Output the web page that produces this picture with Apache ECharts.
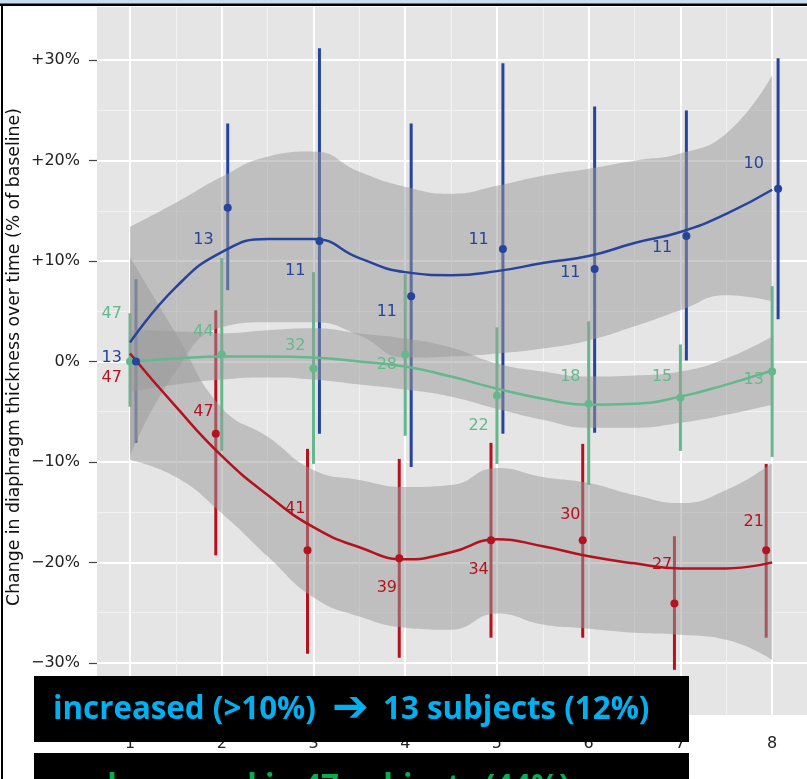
<!DOCTYPE html>
<html>
<head>
<meta charset="utf-8">
<script src="https://cdn.jsdelivr.net/npm/echarts@6.0.0/dist/echarts.min.js"></script>
<style>
html, body { margin: 0; padding: 0; background: #fff; }
#chart { width: 807px; height: 779px; }
</style>
</head>
<body>
<div id="chart"></div>
<script>
// 时间点 / 刻度
var times = [1, 2, 3, 4, 5, 6, 7, 8];
var xTicks = [1, 2, 3, 4, 5, 6, 7, 8];
var xMinor = [1.5, 2.5, 3.5, 4.5, 5.5, 6.5, 7.5];
var yTicks = [-30, -20, -10, 0, 10, 20, 30];
var yMinor = [-25, -15, -5, 5, 15, 25];

// increased (blue)
var blueMean = [0, 15.3, 12.0, 6.5, 11.2, 9.2, 12.5, 17.2];
var blueLow = [-8.1, 7.1, -7.2, -10.5, -7.2, -7.1, 0.1, 4.2];
var blueHigh = [8.2, 23.7, 31.2, 23.7, 29.7, 25.4, 25.0, 30.2];
var blueN = ['13', '13', '11', '11', '11', '11', '11', '10'];
var blueNy = [0.35, 12.1, 9.0, 4.9, 12.1, 8.8, 11.3, 19.7];

// unchanged (green)
var greenMean = [0, 0.7, -0.7, 0.7, -3.4, -4.2, -3.6, -1.0];
var greenLow = [-4.5, -8.9, -10.2, -7.4, -10.2, -12.3, -8.9, -9.5];
var greenHigh = [4.8, 10.3, 8.9, 8.7, 3.4, 4.0, 1.7, 7.5];
var greenN = ['47', '44', '32', '28', '22', '18', '15', '13'];
var greenNy = [4.7, 3.0, 1.6, -0.35, -6.4, -1.5, -1.5, -1.8];

// decreased (red)
var redMean = [null, -7.2, -18.8, -19.6, -17.8, -17.8, -24.1, -18.8];
var redLow = [null, -19.3, -29.1, -29.5, -27.5, -27.5, -30.7, -27.5];
var redHigh = [null, 5.1, -8.7, -9.7, -8.1, -8.2, -17.4, -10.2];
var redN = ['47', '47', '41', '39', '34', '30', '27', '21'];
var redNy = [-1.6, -5.0, -14.7, -22.5, -20.7, -15.3, -20.2, -16.0];

// 平滑曲线 + 置信带
var fitX = [1, 1.5, 2, 2.5, 3, 3.5, 4, 4.5, 5, 5.5, 6, 6.5, 7, 7.5, 8];
var blueFit = [1.9, 7.4, 10.9, 12.2, 12.2, 10.3, 8.9, 8.6, 9.0, 9.8, 10.5, 11.8, 12.9, 14.7, 17.1];
var blueFitHi = [13.4, 15.8, 18.4, 20.4, 20.9, 18.9, 17.4, 16.7, 17.5, 18.5, 19.2, 20.0, 20.7, 22.7, 28.5];
var blueFitLo = [-9.4, -1.0, 3.4, 3.9, 3.9, 2.6, 0.4, 0.5, 0.8, 1.3, 2.1, 3.5, 5.1, 6.6, 6.0];
var greenFit = [0, 0.3, 0.5, 0.5, 0.4, 0.0, -0.5, -1.5, -2.7, -3.7, -4.3, -4.2, -3.5, -2.3, -0.9];
var greenFitHi = [3.1, 3.0, 2.8, 3.1, 3.3, 2.8, 2.3, 1.4, -0.2, -1.0, -1.5, -1.4, -1.0, 0.3, 2.5];
var greenFitLo = [-3.0, -2.3, -1.8, -1.6, -1.8, -2.3, -2.8, -3.5, -4.7, -5.8, -6.6, -6.6, -6.1, -5.3, -4.3];
var redFit = [0.8, -4.5, -9.4, -13.3, -16.5, -18.5, -19.7, -19.0, -17.7, -18.4, -19.4, -20.1, -20.6, -20.6, -20.0];
var redFitHi = [10.4, 2.8, -4.6, -7.5, -10.8, -11.8, -12.5, -12.3, -10.6, -11.5, -12.1, -13.3, -14.1, -12.8, -10.1];
var redFitLo = [-9.8, -11.5, -15.1, -19.4, -23.5, -25.4, -26.5, -26.7, -25.1, -26.2, -26.6, -27.0, -27.2, -27.7, -29.7];

var BLUE = '#26449C', GREEN = '#64B98C', RED = '#B5121F';
var FONT = '"DejaVu Sans", sans-serif';
var BOX_FONT = 'bold 31.3px "Open Sans", sans-serif';

function errBar(params, api) {
    var x = api.value(0);
    var p1 = api.coord([x, api.value(2)]);
    var p2 = api.coord([x, api.value(1)]);
    return {
        type: 'line',
        shape: { x1: p1[0], y1: p1[1], x2: p2[0], y2: p2[1] },
        style: { stroke: api.visual('color'), lineWidth: 3 }
    };
}

function countText(names) {
    return function (params, api) {
        var p = api.coord([api.value(0), api.value(1)]);
        return {
            type: 'text', x: p[0], y: p[1],
            style: {
                text: names[params.dataIndex], fill: api.visual('color'), font: '16px ' + FONT,
                align: 'center', verticalAlign: 'middle',
                textAlign: 'center', textVerticalAlign: 'middle'
            }
        };
    };
}

function groupSeries(color, dodge, mean, low, high, nText, nY, fit, fitLo, fitHi, key) {
    var bars = [], pts = [];
    times.forEach(function (t, i) {
        if (mean[i] == null) return;
        bars.push([t + dodge, low[i], high[i]]);
        pts.push([t + dodge, mean[i]]);
    });
    return [
        // 误差线
        { type: 'custom', renderItem: errBar, data: bars, itemStyle: { color: color }, z: 1, silent: true },
        // 置信带 (y 放在第一维, 这样堆叠发生在 y 上)
        { type: 'line', stack: key, stackStrategy: 'all', smooth: true, symbol: 'none', z: 2,
          encode: { x: 1, y: 0 }, lineStyle: { opacity: 0 },
          data: fitX.map(function (x, i) { return [fitLo[i], x]; }) },
        { type: 'line', stack: key, stackStrategy: 'all', smooth: true, symbol: 'none', z: 2,
          encode: { x: 1, y: 0 }, lineStyle: { opacity: 0 },
          areaStyle: { color: '#999999', opacity: 0.5 },
          data: fitX.map(function (x, i) { return [fitHi[i] - fitLo[i], x]; }) },
        // 平滑曲线
        { type: 'line', smooth: true, symbol: 'none', z: 3, lineStyle: { color: color, width: 2.5 },
          data: fitX.map(function (x, i) { return [x, fit[i]]; }) },
        // 均值点
        { type: 'scatter', symbolSize: 8, itemStyle: { color: color, opacity: 1 }, z: 4, data: pts },
        // 人数
        { type: 'custom', z: 5, silent: true, itemStyle: { color: color }, renderItem: countText(nText),
          data: times.map(function (t, i) { return [t - 0.2, nY[i]]; }) }
    ];
}

var series = [].concat(
    groupSeries(RED, -0.065, redMean, redLow, redHigh, redN, redNy, redFit, redFitLo, redFitHi, 'r'),
    groupSeries(GREEN, 0, greenMean, greenLow, greenHigh, greenN, greenNy, greenFit, greenFitLo, greenFitHi, 'g'),
    groupSeries(BLUE, 0.065, blueMean, blueLow, blueHigh, blueN, blueNy, blueFit, blueFitLo, blueFitHi, 'b')
);

var myChart = echarts.init(document.getElementById('chart'));
var option = {
    animation: false,
    backgroundColor: '#fff',
    grid: { left: 97, right: 0, top: 7, bottom: 64, show: true, backgroundColor: '#E5E5E5',
            borderWidth: 0, outerBoundsMode: 'none' },
    xAxis: [{
        type: 'value', min: 0.64, max: 8.38,
        axisLine: { show: false },
        axisTick: { show: true, length: 8, customValues: xTicks, lineStyle: { color: '#444', width: 1.2 } },
        axisLabel: { customValues: xTicks, margin: 21, fontSize: 16, fontFamily: FONT, color: '#222' },
        splitLine: { show: true, lineStyle: { color: '#FFFFFF', width: 2 } }
    }, {
        type: 'value', min: 0.64, max: 8.38, position: 'top',
        axisLine: { show: false },
        axisTick: { show: false, customValues: xMinor },
        axisLabel: { show: false },
        splitLine: { show: true, lineStyle: { color: '#F2F2F2', width: 1 } }
    }],
    yAxis: [{
        type: 'value', min: -35.2, max: 35.3,
        axisLine: { show: false },
        axisTick: { show: true, length: 8, customValues: yTicks, lineStyle: { color: '#444', width: 1.2 } },
        axisLabel: {
            customValues: yTicks, margin: 17, fontSize: 16, fontFamily: FONT, color: '#222',
            formatter: function (v) {
                if (v > 0) return '+' + v + '%';
                if (v < 0) return '\u2212' + Math.abs(v) + '%';
                return '0%';
            }
        },
        splitLine: { show: true, lineStyle: { color: '#FFFFFF', width: 2 } }
    }, {
        type: 'value', min: -35.2, max: 35.3, position: 'right',
        axisLine: { show: false },
        axisTick: { show: false, customValues: yMinor },
        axisLabel: { show: false },
        splitLine: { show: true, lineStyle: { color: '#F2F2F2', width: 1 } }
    }],
    graphic: [
        { type: 'text', x: 15, y: 357, rotation: Math.PI / 2, z: 100,
          style: { text: 'Change in diaphragm thickness over time (% of baseline)', font: '17.3px ' + FONT,
                   fill: '#111', align: 'center', verticalAlign: 'middle',
                   textAlign: 'center', textVerticalAlign: 'middle' } },
        { type: 'rect', z: 100, shape: { x: 0, y: 0, width: 807, height: 4 }, style: { fill: '#C9DDF0' } },
        { type: 'rect', z: 100, shape: { x: 0, y: 3.5, width: 807, height: 2.5 }, style: { fill: '#000' } },
        { type: 'rect', z: 100, shape: { x: 1, y: 4, width: 2, height: 775 }, style: { fill: '#000' } },
        { type: 'rect', z: 100, shape: { x: 34, y: 676, width: 655, height: 66 }, style: { fill: '#000' } },
        { type: 'rect', z: 100, shape: { x: 34, y: 753, width: 655, height: 40 }, style: { fill: '#000' } },
        { type: 'text', z: 101, x: 53, y: 710,
          style: { text: 'increased (>10%)', font: BOX_FONT, fill: '#00B0F0',
                   verticalAlign: 'middle', textVerticalAlign: 'middle' } },
        { type: 'text', z: 101, x: 332, y: 710,
          style: { text: '\u2794', font: '44px "DejaVu Sans", sans-serif', fill: '#00B0F0',
                   verticalAlign: 'middle', textVerticalAlign: 'middle' } },
        { type: 'text', z: 101, x: 383, y: 710,
          style: { text: '13 subjects (12%)', font: BOX_FONT, fill: '#00B0F0',
                   verticalAlign: 'middle', textVerticalAlign: 'middle' } },
        { type: 'text', z: 101, x: 97, y: 788,
          style: { text: 'decreased in 47 subjects (44%)', font: BOX_FONT, fill: '#00B050',
                   verticalAlign: 'middle', textVerticalAlign: 'middle' } }
    ],
    series: series
};
myChart.setOption(option);
</script>
</body>
</html>
